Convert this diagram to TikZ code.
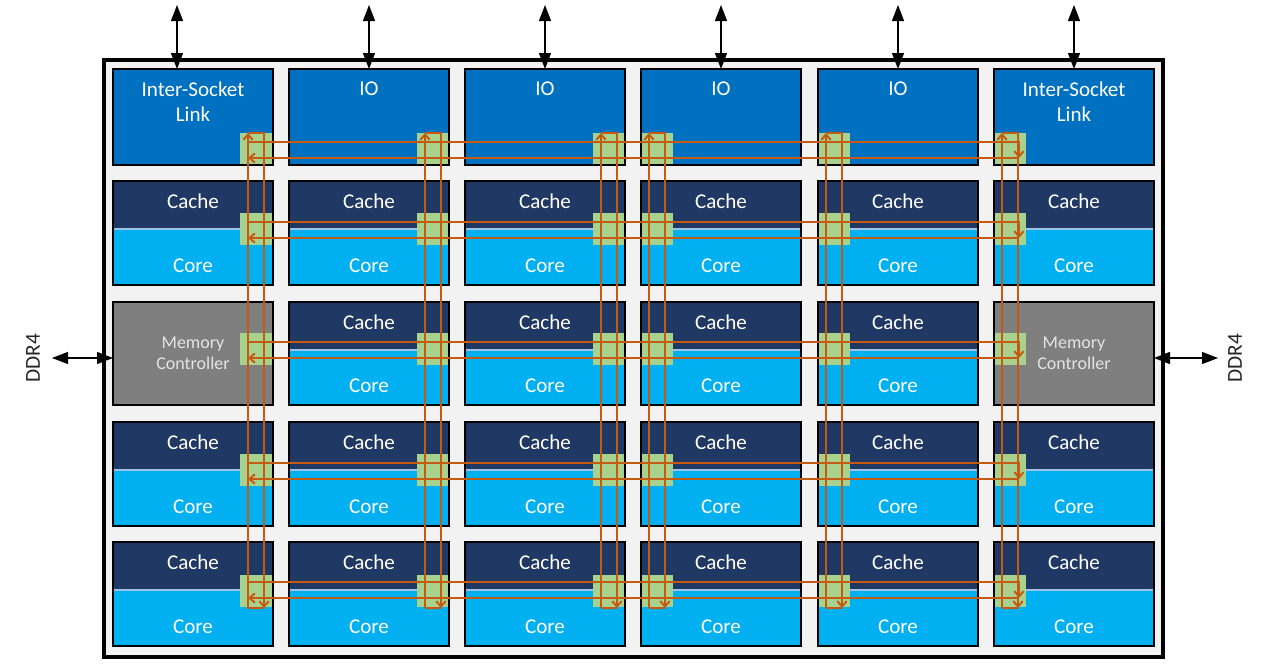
\documentclass[tikz,border=0pt]{standalone}
\usepackage{fontspec}
\setmainfont{Carlito}
\usetikzlibrary{arrows.meta}
\definecolor{bgc}{HTML}{F2F2F2}
\definecolor{ioc}{HTML}{0070C0}
\definecolor{cachec}{HTML}{203864}
\definecolor{corec}{HTML}{00B0F0}
\definecolor{sepc}{HTML}{9DC3E6}
\definecolor{memc}{HTML}{7F7F7F}
\definecolor{memtxt}{HTML}{E4E4E4}
\definecolor{stopc}{HTML}{A9D18E}
\definecolor{ringc}{HTML}{C55A11}
\definecolor{ddrc}{HTML}{262626}
\begin{document}
\begin{tikzpicture}[x=0.75pt,y=-0.75pt,
  tilefill/.style={draw=none,anchor=north west,minimum width=120pt,inner sep=0pt,outer sep=0pt},
  cachefill/.style={draw=none,fill=cachec,anchor=north west,minimum width=120pt,minimum height=36pt,inner sep=0pt,outer sep=0pt},
  sepline/.style={draw=sepc,line width=1.2pt},
  tileborder/.style={draw=black,line width=0.9pt},
  stopbox/.style={draw=none,fill=stopc,anchor=north west,minimum size=24pt,inner sep=0pt,outer sep=0pt},
  lbl/.style={text=white,inner sep=0pt,font=\fontsize{15.8}{18.75}\selectfont},
  memlbl/.style={text=memtxt,inner sep=0pt,align=center,font=\fontsize{13.5}{15.75}\selectfont},
  ddrlbl/.style={text=ddrc,inner sep=0pt,rotate=90,font=\fontsize{16}{18.75}\selectfont},
  ring/.style={draw=ringc,line width=1.5pt,line join=miter},
  ringtip/.style={-{Straight Barb[length=4pt,width=7pt]}},
  bus/.style={draw=black,line width=0.9pt,{Triangle[length=12pt,width=9pt]}-{Triangle[length=12pt,width=9pt]}}
]
\useasboundingbox (0,0) rectangle (1268,664);
\fill[white] (0,0) rectangle (1268,664);
% outer die frame
\draw[line width=2.3pt,fill=bgc] (104,60) rectangle (1163,657);

% tiles
\foreach \c/\x in {1/113,2/289,3/465,4/641,5/818,6/994}{
  \node[tilefill,fill=ioc,minimum height=72pt] (T-1-\c) at (\x,69) {};
  \foreach \r/\y/\h in {2/181/104,3/302/103,4/422/104,5/542/104}{
    \pgfmathtruncatemacro\ismem{and(\r==3,or(\c==1,\c==6))}
    \ifnum\ismem=1
      \node[tilefill,fill=memc,minimum height=\h*0.75pt] (T-\r-\c) at (\x,\y) {};
    \else
      \node[tilefill,fill=corec,minimum height=\h*0.75pt] (T-\r-\c) at (\x,\y) {};
      \node[cachefill] (C-\r-\c) at (\x,\y) {};
      \draw[sepline] (C-\r-\c.south west) -- (C-\r-\c.south east);
      \node[lbl] (cache-\r-\c) at (\x+80,\y+20) {Cache};
      \node[lbl] (core-\r-\c) at (\x+80,\y+\h-19) {Core};
    \fi
  }
}

% ring stops
\foreach \c/\gx in {1/240,2/417,3/593,4/641,5/818,6/994}{
  \foreach \r/\gy in {1/133,2/213,3/333,4/454,5/575}{
    \node[stopbox] (G-\r-\c) at (\gx,\gy) {};
  }
}

% tile borders
\foreach \c in {1,...,6}{
  \foreach \r in {1,...,5}{
    \draw[tileborder] (T-\r-\c.north west) rectangle (T-\r-\c.south east);
  }
}

% top tile labels
\node[lbl,align=center] (isl-1) at (193,101.5) {Inter-Socket\\Link};
\node[lbl,align=center] (isl-6) at (1074,101.5) {Inter-Socket\\Link};
\foreach \c/\cx in {2/369,3/545,4/721,5/898}{
  \node[lbl] (io-\c) at (\cx,89) {IO};
}
\node[memlbl] (mc-1) at (193,353.5) {Memory\\Controller};
\node[memlbl] (mc-6) at (1074,353.5) {Memory\\Controller};

% vertical rings
\foreach \xl in {248,425,601,649,826,1002}{
  \pgfmathsetmacro\xr{\xl+16}
  \draw[ring,ringtip] (\xl,608) -- (\xl,133);
  \draw[ring,ringtip] (\xl,133) -- (\xr,133) -- (\xr,608);
  \draw[ring] (\xr,608) -- (\xl,608);
}
% horizontal rings
\foreach \yt in {142,222,342,463,582}{
  \pgfmathsetmacro\yb{\yt+16}
  \draw[ring,ringtip] (248,\yb) -- (248,\yt) -- (1019,\yt) -- (1019,\yb);
  \draw[ring,ringtip] (1019,\yb) -- (248,\yb);
}

% top links
\foreach \i/\ax in {1/177,2/369,3/545,4/721,5/898,6/1074}{
  \coordinate (top-\i) at (\ax,5);
  \draw[bus] (top-\i) -- (top-\i |- T-1-\i.north);
}

% DDR4 links
\coordinate (ddrL) at (52,358);
\coordinate (ddrR) at (1218,358);
\draw[bus] (ddrL) -- (ddrL -| T-3-1.west);
\draw[bus] (ddrR) -- (ddrR -| T-3-6.east);
\node[ddrlbl] (ddr-l) at (33,358) {DDR4};
\node[ddrlbl] (ddr-r) at (1235,358) {DDR4};
\end{tikzpicture}
\end{document}
